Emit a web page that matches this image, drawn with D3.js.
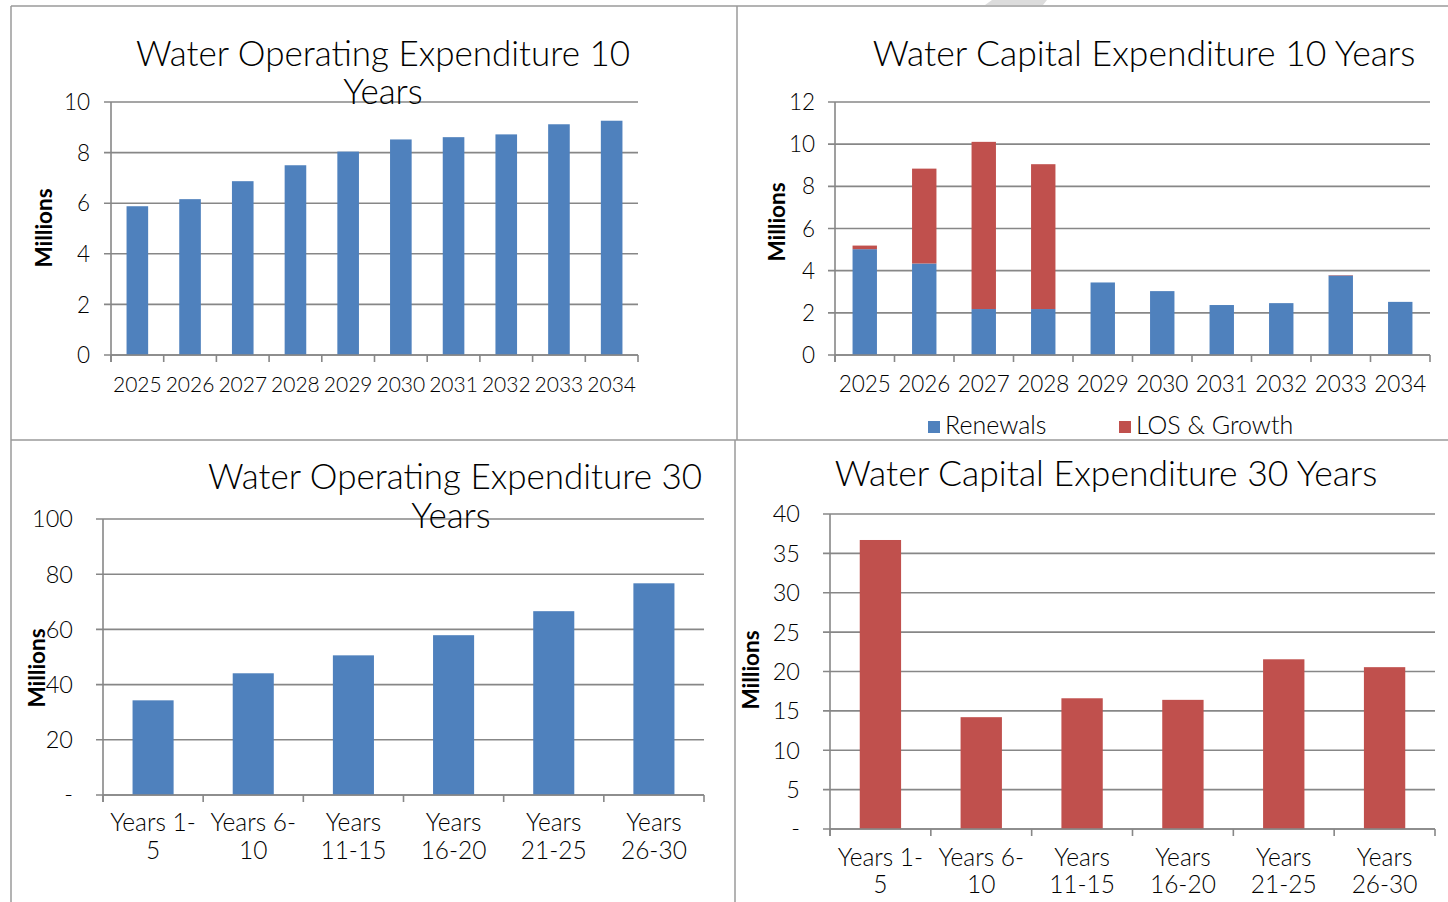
<!DOCTYPE html>
<html>
<head>
<meta charset="utf-8">
<script src="https://cdn.jsdelivr.net/npm/d3@7"></script>
<style>
  body { margin: 0; background: #fff; }
  svg text { font-family: Lato, "Open Sans", sans-serif; fill: #000; font-weight: 300; }
  svg text.axis-title { font-weight: 700; }
</style>
</head>
<body>
<svg id="chart" width="1448" height="902"></svg>
<script>
// ---- data (millions) ----
const years10 = ["2025", "2026", "2027", "2028", "2029", "2030", "2031", "2032", "2033", "2034"];
const opex10 = [5.88, 6.16, 6.87, 7.50, 8.04, 8.52, 8.61, 8.72, 9.12, 9.26];
const capexRenewals10 = [5.02, 4.34, 2.18, 2.18, 3.44, 3.03, 2.37, 2.46, 3.77, 2.52];
const capexGrowth10 = [0.17, 4.50, 7.93, 6.87, 0, 0, 0, 0, 0.02, 0];

const periods30 = [["Years 1-", "5"], ["Years 6-", "10"], ["Years", "11-15"], ["Years", "16-20"], ["Years", "21-25"], ["Years", "26-30"]];
const opex30 = [34.3, 44.1, 50.6, 57.9, 66.6, 76.7];
const capex30 = [36.7, 14.2, 16.6, 16.4, 21.55, 20.55];

const opex10Ticks = [0, 2, 4, 6, 8, 10];
const capex10Ticks = [0, 2, 4, 6, 8, 10, 12];
const opex30Ticks = [0, 20, 40, 60, 80, 100];
const opex30TickLabels = ["-", "20", "40", "60", "80", "100"];
const capex30Ticks = [0, 5, 10, 15, 20, 25, 30, 35, 40];
const capex30TickLabels = ["-", "5", "10", "15", "20", "25", "30", "35", "40"];

const seriesNames = ["Renewals", "LOS & Growth"];

const BLUE = "#4f81bd", RED = "#c0504d", GRID = "#878787", FRAME = "#9a9a9a";

const svg = d3.select("#chart");

// ---- panel frames ----
const frame = svg.append("g").attr("stroke", FRAME).attr("stroke-width", 1.5).attr("fill", "none");
frame.append("line").attr("x1", 11).attr("x2", 1448).attr("y1", 6).attr("y2", 6);
frame.append("line").attr("x1", 11).attr("x2", 11).attr("y1", 6).attr("y2", 902);
frame.append("line").attr("x1", 737).attr("x2", 737).attr("y1", 6).attr("y2", 440);
frame.append("line").attr("x1", 11).attr("x2", 1448).attr("y1", 440).attr("y2", 440);
frame.append("line").attr("x1", 735).attr("x2", 735).attr("y1", 440).attr("y2", 902);
// light slanted tab on the top edge
svg.append("path").attr("d", "M985,5 L992,0 L1047,0 L1043,5 Z").attr("fill", "#dcdcdc");

function drawChart(cfg) {
  const g = svg.append("g");
  const x = d3.scaleBand().domain(cfg.categories.map((d, i) => i)).range([cfg.left, cfg.right]).padding(0);
  const y = d3.scaleLinear().domain([0, cfg.ticks[cfg.ticks.length - 1]]).range([cfg.bottom, cfg.top]);
  const barW = x.bandwidth() * 0.41;

  // gridlines (with outward tick stubs)
  g.append("g").selectAll("line").data(cfg.ticks).join("line")
    .attr("x1", cfg.left - 7).attr("x2", cfg.right)
    .attr("y1", d => y(d)).attr("y2", d => y(d))
    .attr("stroke", GRID).attr("stroke-width", 1.6);

  // y axis labels
  g.append("g").selectAll("text").data(cfg.ticks).join("text")
    .attr("x", cfg.left - cfg.labelGap).attr("y", d => y(d))
    .attr("dy", "0.36em").attr("text-anchor", "end")
    .attr("font-size", cfg.tickFont)
    .text((d, i) => cfg.tickLabels ? cfg.tickLabels[i] : d);

  // bars
  let base = cfg.categories.map(() => 0);
  cfg.series.forEach(s => {
    const b0 = base.slice();
    g.append("g").selectAll("rect").data(s.values).join("rect")
      .attr("x", (d, i) => x(i) + (x.bandwidth() - barW) / 2)
      .attr("width", barW)
      .attr("y", (d, i) => y(b0[i] + d))
      .attr("height", (d, i) => y(b0[i]) - y(b0[i] + d))
      .attr("fill", s.color);
    base = base.map((v, i) => v + s.values[i]);
  });

  // axes
  g.append("line").attr("x1", cfg.left).attr("x2", cfg.left)
    .attr("y1", cfg.top).attr("y2", cfg.bottom + 7)
    .attr("stroke", GRID).attr("stroke-width", 1.6);
  g.append("line").attr("x1", cfg.left).attr("x2", cfg.right)
    .attr("y1", cfg.bottom).attr("y2", cfg.bottom)
    .attr("stroke", GRID).attr("stroke-width", 1.6);
  const bounds = d3.range(cfg.categories.length + 1).map(i => cfg.left + i * x.step());
  g.append("g").selectAll("line").data(bounds).join("line")
    .attr("x1", d => d).attr("x2", d => d)
    .attr("y1", cfg.bottom).attr("y2", cfg.bottom + 7)
    .attr("stroke", GRID).attr("stroke-width", 1.6);

  // category labels
  const cat = g.append("g").selectAll("text").data(cfg.categories).join("text")
    .attr("text-anchor", "middle").attr("font-size", cfg.catFont);
  cat.each(function (d, i) {
    const lines = Array.isArray(d) ? d : [d];
    d3.select(this).selectAll("tspan").data(lines).join("tspan")
      .attr("x", x(i) + x.bandwidth() / 2)
      .attr("y", (l, j) => cfg.catY + j * cfg.catLine)
      .text(l => l);
  });

  // title
  g.append("g").selectAll("text").data(cfg.title).join("text")
    .attr("x", d => d.x).attr("y", d => d.y)
    .attr("text-anchor", "middle").attr("font-size", cfg.titleFont)
    .text(d => d.text);

  // y axis title
  g.append("text").attr("class", "axis-title")
    .attr("transform", `translate(${cfg.yTitleX},${cfg.yTitleY}) rotate(-90)`)
    .attr("text-anchor", "middle").attr("font-size", 22.5)
    .text("Millions");
}

drawChart({
  left: 111, right: 638, top: 102, bottom: 355,
  categories: years10, ticks: opex10Ticks, labelGap: 21, tickFont: 22.5,
  series: [{ values: opex10, color: BLUE }],
  catFont: 21, catY: 392, catLine: 28,
  titleFont: 35,
  title: [{ text: "Water Operating Expenditure 10", x: 383, y: 66 }, { text: "Years", x: 383, y: 104 }],
  yTitleX: 52, yTitleY: 228
});

drawChart({
  left: 835, right: 1430, top: 102, bottom: 355,
  categories: years10, ticks: capex10Ticks, labelGap: 20, tickFont: 22.5,
  series: [{ values: capexRenewals10, color: BLUE }, { values: capexGrowth10, color: RED }],
  catFont: 22.5, catY: 392, catLine: 28,
  titleFont: 35.5,
  title: [{ text: "Water Capital Expenditure 10 Years", x: 1144, y: 66 }],
  yTitleX: 785, yTitleY: 222
});

drawChart({
  left: 103, right: 704, top: 519, bottom: 795,
  categories: periods30, ticks: opex30Ticks, tickLabels: opex30TickLabels, labelGap: 30, tickFont: 23.5,
  series: [{ values: opex30, color: BLUE }],
  catFont: 24.5, catY: 831, catLine: 28,
  titleFont: 35,
  title: [{ text: "Water Operating Expenditure 30", x: 455, y: 489 }, { text: "Years", x: 451, y: 528 }],
  yTitleX: 45, yTitleY: 668
});

drawChart({
  left: 830, right: 1435, top: 514, bottom: 829,
  categories: periods30, ticks: capex30Ticks, tickLabels: capex30TickLabels, labelGap: 30, tickFont: 23.5,
  series: [{ values: capex30, color: RED }],
  catFont: 24.5, catY: 866, catLine: 27,
  titleFont: 35.5,
  title: [{ text: "Water Capital Expenditure 30 Years", x: 1106, y: 486 }],
  yTitleX: 759, yTitleY: 670
});

// legend for the stacked capital chart
const legend = svg.append("g");
const legendItems = [{ name: seriesNames[0], color: BLUE, x: 928 }, { name: seriesNames[1], color: RED, x: 1119 }];
legend.selectAll("rect").data(legendItems).join("rect")
  .attr("x", d => d.x).attr("y", 421).attr("width", 12).attr("height", 12).attr("fill", d => d.color);
legend.selectAll("text").data(legendItems).join("text")
  .attr("x", d => d.x + 17).attr("y", 434).attr("font-size", 25).text(d => d.name);
</script>
</body>
</html>
